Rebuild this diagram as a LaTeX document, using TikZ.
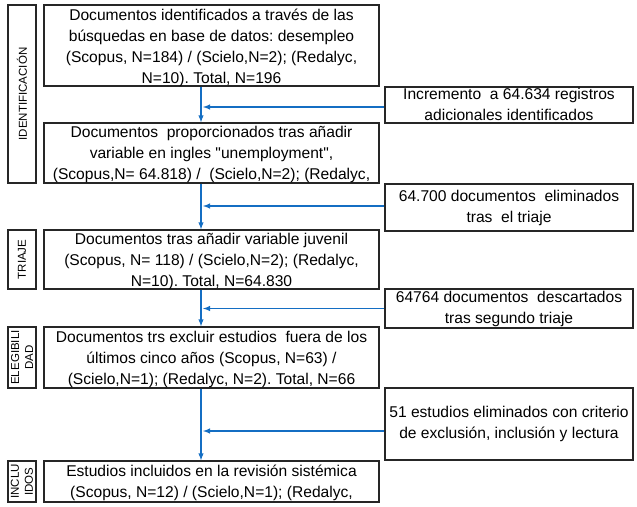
\documentclass[tikz,border=0pt]{standalone}
\usepackage{fontspec}
\setmainfont{Liberation Sans}
\usepackage{tikz}
\usetikzlibrary{arrows}
\usetikzlibrary{positioning}
\definecolor{flowblue}{RGB}{20,110,195}
\frenchspacing

\begin{document}
\begin{tikzpicture}[
                x=1pt, y=-1pt,
                mainbox/.style={draw=black!85, line width=1.3pt, minimum width=335pt, inner sep=0pt},
                sidebox/.style={draw=black!85, line width=1.3pt, rotate=90, minimum height=28pt, inner sep=0pt, align=center, font=\fontsize{11.5}{14}\selectfont},
                notebox/.style={draw=black!85, line width=1.3pt, minimum width=248pt, inner sep=0pt},
                txt/.style={inner sep=0pt, align=center, font=\fontsize{15.6}{21}\selectfont},
                flow/.style={draw=flowblue, line width=1.4pt, -latex}
            ]
            \useasboundingbox (0,0) rectangle (637,506);

            % Define nodes
            \node[mainbox, minimum height=81pt] (ident) at (211.5,45.5) {};
            \node[txt, below=1pt of ident.north] (identtxt) {\strut Documentos identificados a través de las\\búsquedas en base de datos: desempleo\\(Scopus, N=184) / (Scielo,N=2); (Redalyc,\\N=10). Total, N=196};
            \node[mainbox, minimum height=60pt] (added) at (211.5,153) {};
            \node[txt, below=0.5pt of added.north] (addedtxt) {\strut Documentos~ proporcionados tras añadir\\variable en ingles \textquotedbl unemployment\textquotedbl,\\(Scopus,N= 64.818) /~ (Scielo,N=2); (Redalyc,};
            \node[mainbox, minimum height=59pt] (juvenil) at (211.5,259.5) {};
            \node[txt, below=0.5pt of juvenil.north] (juveniltxt) {\strut Documentos tras añadir variable juvenil\\(Scopus, N= 118) / (Scielo,N=2); (Redalyc,\\N=10). Total, N=64.830};
            \node[mainbox, minimum height=61pt] (recent) at (211.5,357.5) {};
            \node[txt, below=1pt of recent.north] (recenttxt) {\strut Documentos trs excluir estudios~ fuera de los\\últimos cinco años (Scopus, N=63) /\\(Scielo,N=1); (Redalyc, N=2). Total, N=66};
            \node[mainbox, minimum height=41pt] (final) at (211.5,481.5) {};
            \node[txt, below=1pt of final.north] (finaltxt) {\strut Estudios incluidos en la revisión sistémica\\(Scopus, N=12) / (Scielo,N=1); (Redalyc,};

            % Stage labels
            \node[sidebox, minimum width=178pt] (stageid) at (22,94) {IDENTIFICACIÓN};
            \node[sidebox, minimum width=59pt] (stagetri) at (22,259.5) {TRIAJE};
            \node[sidebox, minimum width=61pt] (stageele) at (22,357.5) {ELEGIBILI\\DAD};
            \node[sidebox, minimum width=41pt] (stageinc) at (22,481.5) {INCLU\\IDOS};

            % Side notes
            \node[notebox, minimum height=36pt] (more) at (509,105) {};
            \node[txt, below=-1.7pt of more.north] (moretxt) {\strut Incremento~ a 64.634 registros\\adicionales identificados};
            \node[notebox, minimum height=47pt] (triage1) at (509,207.5) {};
            \node[txt, below=3pt of triage1.north] (triage1txt) {\strut 64.700 documentos~ eliminados\\tras~ el triaje};
            \node[notebox, minimum height=39pt] (triage2) at (509,308.5) {};
            \node[txt, below=-0.7pt of triage2.north] (triage2txt) {\strut 64764 documentos~ descartados\\tras segundo triaje};
            \node[notebox, minimum height=72pt] (excl) at (509,424) {};
            \node[txt, below=15.3pt of excl.north] (excltxt) {\strut 51 estudios eliminados con criterio\\de exclusión, inclusión y lectura};

            % Arrows connecting boxes
            \coordinate (spine) at (201,0);
            \coordinate (tip) at (203,0);
            \draw[flow] (ident.south -| spine) -- (added.north -| spine);
            \draw[flow] (added.south -| spine) -- (juvenil.north -| spine);
            \draw[flow] (juvenil.south -| spine) -- (recent.north -| spine);
            \draw[flow] (recent.south -| spine) -- (final.north -| spine);
            \draw[flow] ([yshift=-2pt]more.west) -- ([yshift=-2pt]more.west -| tip);
            \draw[flow] ([yshift=1.5pt]triage1.west) -- ([yshift=1.5pt]triage1.west -| tip);
            \draw[flow] (triage2.west) -- (triage2.west -| tip);
            \draw[flow] ([yshift=-7pt]excl.west) -- ([yshift=-7pt]excl.west -| tip);

        \end{tikzpicture}
\end{document}
